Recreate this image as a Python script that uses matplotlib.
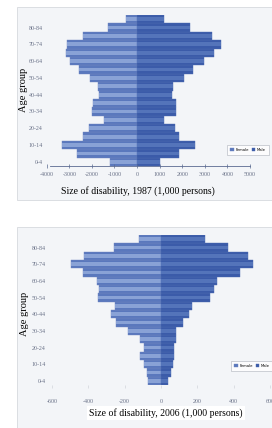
import numpy as np
import matplotlib
matplotlib.use('Agg')
import matplotlib.pyplot as plt
from matplotlib.patches import Rectangle

# Age groups, bottom to top
ages = ['0-4', '5-9', '10-14', '15-19', '20-24', '25-29', '30-34', '35-39', '40-44',
        '45-49', '50-54', '55-59', '60-64', '65-69', '70-74', '75-79', '80-84', '85+']
age_ticks = ['0-4', '10-14', '20-24', '30-34', '40-44', '50-54', '60-64', '70-74', '80-84']

# 1987 (1,000 persons)
female_1987 = [1210, 2650, 3320, 2390, 2110, 1475, 1990, 1950, 1700,
               1740, 2065, 2580, 2980, 3130, 3100, 2390, 1280, 500]
male_1987 = [1030, 1840, 2580, 1840, 1700, 1180, 1740, 1740, 1550,
             1580, 2065, 2480, 2980, 3390, 3730, 3320, 2360, 1180]
xticks_1987 = [-4000, -3000, -2000, -1000, 0, 1000, 2000, 3000, 4000, 5000]

# 2006 (1,000 persons)
female_2006 = [70, 79, 92, 116, 94, 116, 180, 250, 275,
               253, 345, 339, 354, 431, 497, 422, 259, 119]
male_2006 = [40, 53, 68, 72, 72, 81, 81, 123, 156,
             169, 270, 292, 306, 435, 505, 481, 371, 242]
xticks_2006 = [-600, -400, -200, 0, 200, 400, 600]

W, H = 272, 428
fig = plt.figure(figsize=(W / 100, H / 100), dpi=100)
fig.patch.set_facecolor('white')

def fx(px):
    return px / W

def fy(py):
    return 1 - py / H

# panel backgrounds
for top, bot in [(7, 200), (227, 430)]:
    fig.patches.append(Rectangle((fx(17), fy(bot)), fx(300), fy(top) - fy(bot),
                                 transform=fig.transFigure, facecolor='#f3f5f8',
                                 edgecolor='#d6d9de', linewidth=0.6, zorder=-5))

f_dark, f_light = '#5a78bd', '#89a2d6'
m_dark, m_light = '#3b5ba9', '#5474ba'
tick_font = dict(family='Liberation Serif', size=4.3, color='#6a7288')

def pyramid(ax, female, male, xticks, xlim, legend_xy, ylab_xy):
    y = np.arange(len(ages))
    fem = -np.array(female)
    mal = np.array(male)
    ax.barh(y, fem, height=1.0, color=f_dark, edgecolor='#6f86bf', linewidth=0.3, label='Female')
    ax.barh(y, fem, height=0.45, color=f_light, linewidth=0)
    ax.barh(y, mal, height=1.0, color=m_dark, edgecolor='#4e6bb0', linewidth=0.3, label='Male')
    ax.barh(y, mal, height=0.45, color=m_light, linewidth=0)
    ax.set_xlim(*xlim)
    ax.set_ylim(-0.5, len(ages) - 0.5)
    ax.set_facecolor('none')
    ax.set_yticks([ages.index(a) for a in age_ticks])
    ax.set_yticklabels(age_ticks, **tick_font)
    ax.set_xticks(xticks)
    ax.set_xticklabels([str(t) for t in xticks], **tick_font)
    for s in ['top', 'right', 'left']:
        ax.spines[s].set_visible(False)
    ax.tick_params(axis='y', length=0, pad=3)
    ax.set_ylabel('Age group', family='Liberation Serif', size=7.5)
    ax.yaxis.set_label_coords(fx(ylab_xy[0]), fy(ylab_xy[1]), transform=fig.transFigure)
    leg = ax.legend(loc='center left', bbox_to_anchor=legend_xy, bbox_transform=fig.transFigure,
                    fontsize=2.7, frameon=True, ncol=2, handlelength=0.9, handletextpad=0.4,
                    columnspacing=0.9, borderpad=0.9, fancybox=False)
    leg.get_frame().set_edgecolor('#9aa0aa')
    leg.get_frame().set_linewidth(0.4)
    return ax

# 1987
ax1 = fig.add_axes([fx(46.7), fy(166), fx(250 - 46.7), fy(15) - fy(166)])
pyramid(ax1, female_1987, male_1987, xticks_1987, (-4000, 5000), (fx(225), fy(150)), (28, 90))
ax1.spines['bottom'].set_bounds(-3850, 5000)
ax1.spines['bottom'].set_color('#5a6a90')
ax1.spines['bottom'].set_linewidth(0.6)
ax1.tick_params(axis='x', direction='inout', length=3, width=0.5, color='#5a6a90', pad=2.5)
ax1.set_xlabel('Size of disability, 1987 (1,000 persons)', family='Liberation Serif',
               size=7)
ax1.xaxis.set_label_coords(fx(138), fy(186), transform=fig.transFigure)

# 2006
ax2 = fig.add_axes([fx(50), fy(385), fx(272 - 50), fy(235) - fy(385)])
pyramid(ax2, female_2006, male_2006, xticks_2006, (-611, 611), (fx(229), fy(366)), (29, 314))
ax2.spines['bottom'].set_visible(False)
ax2.tick_params(axis='x', length=2, width=0.4, color='#c8ccd4', pad=8)
ax2.set_xlabel('Size of disability, 2006 (1,000 persons)', family='Liberation Serif',
               size=7, bbox=dict(facecolor='white', edgecolor='none', pad=1.5))
ax2.xaxis.set_label_coords(fx(166), fy(408), transform=fig.transFigure)

fig.savefig('out.png', dpi=100)
